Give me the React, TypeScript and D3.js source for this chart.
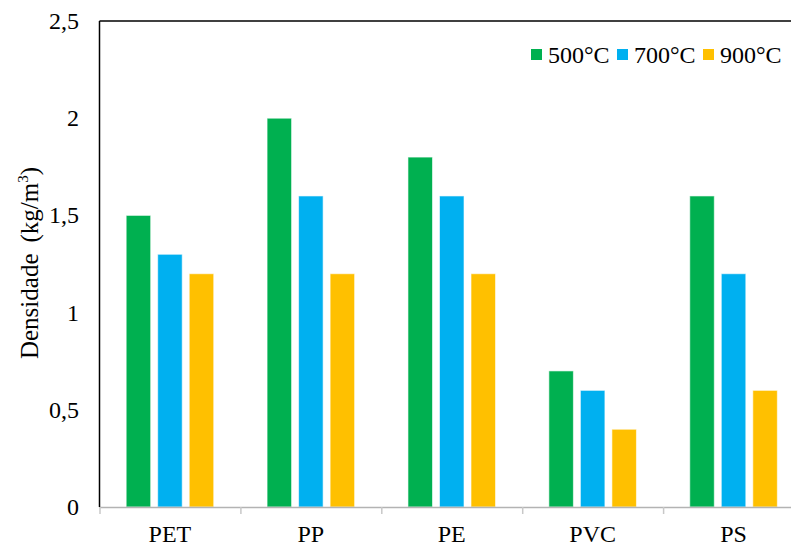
import React from "react";
import * as d3 from "d3";

const categories = ["PET", "PP", "PE", "PVC", "PS"];
const seriesNames = ["500°C", "700°C", "900°C"];
const seriesColors = ["#00B050", "#00B0F0", "#FFC000"];
const values500 = [1.5, 2.0, 1.8, 0.7, 1.6];
const values700 = [1.3, 1.6, 1.6, 0.6, 1.2];
const values900 = [1.2, 1.2, 1.2, 0.4, 0.6];
const yTicks = [0, 0.5, 1, 1.5, 2, 2.5];
const yTickLabels = ["0", "0,5", "1", "1,5", "2", "2,5"];

const W = 791;
const H = 547;
const FONT = "'Liberation Serif', 'Times New Roman', serif";

export default function App() {
  const seriesValues = [values500, values700, values900];
  const left = 99.5;
  const right = 804;
  const top = 21;
  const bottom = 507;

  const x0 = d3.scaleBand<string>().domain(categories).range([left, right]).padding(0);
  const x1 = d3
    .scaleBand<string>()
    .domain(seriesNames)
    .range([0, x0.bandwidth()])
    .paddingInner(0.222)
    .paddingOuter(0.846);
  const y = d3.scaleLinear().domain([0, 2.5]).range([bottom, top]);

  const boundaries = categories.map((c) => x0(c) as number);

  const legendItems = [
    { x: 531, textX: 548 },
    { x: 617, textX: 634 },
    { x: 703, textX: 720 },
  ];

  return (
    <svg
      width={W}
      height={H}
      style={{ position: "absolute", left: 0, top: 0, background: "#fff" }}
    >
      <rect x={0} y={0} width={W} height={H} fill="#fff" />
      {categories.map((c, ci) =>
        seriesNames.map((s, si) => {
          const v = seriesValues[si][ci];
          const bx = (x0(c) as number) + (x1(s) as number);
          return (
            <rect
              key={c + s}
              x={bx}
              y={y(v)}
              width={x1.bandwidth()}
              height={y(0) - y(v)}
              fill={seriesColors[si]}
              stroke="#ffffff"
              strokeOpacity={0.6}
              strokeWidth={1}
            />
          );
        })
      )}
      <line x1={left} x2={W} y1={bottom + 0.5} y2={bottom + 0.5} stroke="#B3B3B3" strokeWidth={1.5} />
      {boundaries.map((b, i) => (
        <line key={i} x1={b + 0.5} x2={b + 0.5} y1={bottom} y2={bottom + 7} stroke="#C8C8C8" strokeWidth={1.5} />
      ))}
      <line x1={left} x2={left} y1={top} y2={bottom} stroke="#000" strokeWidth={1.5} />
      <line x1={left} x2={W} y1={top} y2={top} stroke="#000" strokeWidth={1.5} />
      {yTicks.map((t, i) => (
        <text
          key={t}
          x={79}
          y={y(t)}
          dy="0.33em"
          textAnchor="end"
          fontFamily={FONT}
          fontSize={24}
          fill="#000"
        >
          {yTickLabels[i]}
        </text>
      ))}
      {categories.map((c) => (
        <text
          key={c}
          x={(x0(c) as number) + x0.bandwidth() / 2}
          y={542}
          textAnchor="middle"
          fontFamily={FONT}
          fontSize={24}
          fill="#000"
        >
          {c}
        </text>
      ))}
      <text
        transform={`translate(38, ${263}) rotate(-90)`}
        textAnchor="middle"
        fontFamily={FONT}
        fontSize={25}
        fill="#000"
      >
        Densidade
        <tspan dx={11}>(kg/m</tspan>
        <tspan fontSize={15} dy={-10}>3</tspan>
        <tspan dy={10}>)</tspan>
      </text>
      {seriesNames.map((s, i) => (
        <g key={s}>
          <rect x={legendItems[i].x} y={49} width={11} height={11} fill={seriesColors[i]} />
          <text x={legendItems[i].textX} y={63} fontFamily={FONT} fontSize={24} fill="#000">
            {s}
          </text>
        </g>
      ))}
    </svg>
  );
}
